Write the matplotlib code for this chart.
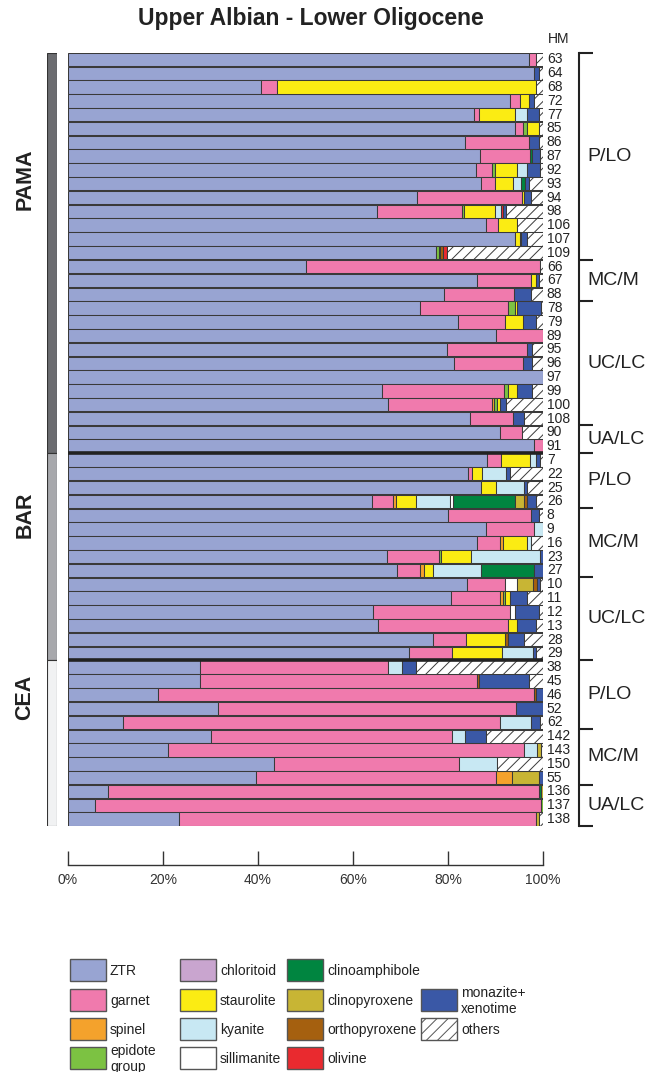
import numpy as np
import matplotlib
matplotlib.use("Agg")
import matplotlib.pyplot as plt
from matplotlib.patches import Rectangle

plt.rcParams['font.family'] = ['Liberation Sans', 'DejaVu Sans']
plt.rcParams['hatch.linewidth'] = 0.7

title = "Upper Albian - Lower Oligocene"

samples = ["63", "64", "68", "72", "77", "85", "86", "87", "92", "93",
           "94", "98", "106", "107", "109", "66", "67", "88", "78", "79",
           "89", "95", "96", "97", "99", "100", "108", "90", "91", "7",
           "22", "25", "26", "8", "9", "16", "23", "27", "10", "11",
           "12", "13", "28", "29", "38", "45", "46", "52", "62", "142",
           "143", "150", "55", "136", "137", "138"]

group_names = ["PAMA", "BAR", "CEA"]
group_sizes = [29, 15, 12]
group_colors = ["#6b6c70", "#a7a8ac", "#f1f2f3"]
group_label_rows = [8.7, 33.0, 46.2]

period_labels = ["P/LO", "MC/M", "UC/LC", "UA/LC",
                 "P/LO", "MC/M", "UC/LC",
                 "P/LO", "MC/M", "UA/LC"]
period_sizes = [15, 3, 9, 2, 4, 5, 6, 5, 4, 3]

ztr = [97.0, 98.0, 40.6, 93.0, 85.5, 94.1, 83.6, 86.7, 85.9, 87.0,
       73.4, 65.0, 88.1, 94.0, 77.4, 50.1, 86.0, 79.1, 74.2, 82.0,
       90.0, 79.7, 81.2, 100.0, 66.0, 67.3, 84.6, 90.9, 98.1, 88.2,
       84.2, 87.0, 64.1, 80.0, 88.1, 86.1, 67.1, 69.2, 84.0, 80.6,
       64.3, 65.3, 76.9, 71.8, 27.7, 27.8, 18.9, 31.5, 11.5, 30.1,
       21.0, 43.4, 39.5, 8.4, 5.7, 23.4]
garnet = [1.5, 0, 3.5, 2.1, 1.0, 1.6, 13.4, 10.5, 3.4, 2.8,
          22.2, 18.0, 2.4, 0, 0, 49.3, 11.5, 14.8, 18.4, 10.1,
          10.0, 16.9, 14.5, 0, 25.8, 22.0, 9.1, 4.7, 1.9, 3.0,
          0.9, 0, 4.4, 17.5, 10.1, 4.9, 11.0, 4.9, 8.1, 10.3,
          28.7, 27.3, 6.8, 9.1, 39.7, 58.3, 79.1, 62.9, 79.5, 50.8,
          75.0, 38.9, 50.7, 90.8, 93.8, 75.2]
spinel = [0, 0, 0, 0, 0, 0, 0, 0, 0, 0,
          0, 0, 0, 0, 0, 0, 0, 0, 0, 0,
          0, 0, 0, 0, 0, 0.3, 0, 0, 0, 0,
          0, 0, 0.5, 0, 0, 0.6, 0, 0.9, 0, 0.6,
          0, 0, 0, 0, 0, 0, 0, 0, 0, 0,
          0, 0, 3.3, 0, 0, 0]
epidote = [0, 0, 0, 0, 0, 0.9, 0, 0, 0.5, 0,
           0, 0.4, 0, 0, 0.6, 0, 0, 0, 1.4, 0,
           0, 0, 0, 0, 0.8, 0.8, 0, 0, 0, 0,
           0, 0, 0, 0, 0, 0, 0.5, 0, 0, 0.4,
           0, 0, 0, 0, 0, 0, 0, 0, 0, 0,
           0, 0, 0, 0, 0.5, 0]
chloritoid = [0, 0, 0, 0, 0, 0, 0, 0, 0, 0,
              0, 0, 0, 0, 0, 0, 0, 0, 0, 0,
              0, 0, 0, 0, 0, 0, 0, 0, 0, 0,
              0, 0, 0, 0, 0, 0, 0, 0, 0, 0,
              0, 0, 0, 0, 0, 0, 0, 0, 0, 0,
              0, 0, 0, 0, 0, 0]
staurolite = [0, 0, 54.4, 1.9, 7.6, 2.5, 0, 0, 4.8, 3.9,
              0.3, 6.4, 4.0, 1.1, 0.4, 0, 1.0, 0, 0.5, 3.7,
              0, 0, 0, 0, 2.0, 0.5, 0, 0, 0, 6.1,
              2.1, 3.2, 4.2, 0, 0, 5.1, 6.3, 1.9, 0, 1.1,
              0, 1.9, 8.2, 10.5, 0, 0, 0, 0, 0, 0,
              0, 0, 0, 0, 0, 0]
kyanite = [0, 0, 0, 0, 2.5, 0, 0, 0, 2.0, 1.6,
           0, 1.4, 0, 0, 0, 0, 0, 0, 0, 0,
           0, 0, 0, 0, 0, 0, 0, 0, 0, 1.2,
           5.1, 5.8, 7.3, 0, 1.8, 0.8, 14.4, 10.1, 0, 0,
           0, 0, 0, 6.5, 3.0, 0, 0, 0, 6.5, 2.6,
           2.7, 8.0, 0, 0, 0, 0]
sillimanite = [0, 0, 0, 0, 0, 0, 0, 0, 0, 0,
               0, 0, 0, 0, 0, 0, 0, 0, 0, 0,
               0, 0, 0, 0, 0, 0, 0, 0, 0, 0,
               0, 0, 0.6, 0, 0, 0, 0, 0, 2.5, 0,
               1.0, 0, 0, 0, 0, 0, 0, 0, 0, 0,
               0, 0, 0, 0, 0, 0]
clinoamphibole = [0, 0, 0, 0, 0, 0, 0, 0.5, 0, 0.9,
                  0, 0, 0, 0, 0, 0, 0, 0, 0, 0,
                  0, 0, 0, 0, 0, 0, 0, 0, 0, 0,
                  0, 0, 13.1, 0, 0, 0, 0, 11.1, 0, 0,
                  0, 0, 0, 0, 0, 0, 0, 0, 0, 0,
                  0, 0, 0, 0.3, 0, 0]
clinopyroxene = [0, 0, 0, 0, 0, 0, 0, 0, 0, 0,
                 0, 0, 0, 0, 0, 0, 0, 0, 0, 0,
                 0, 0, 0, 0, 0, 0, 0, 0, 0, 0,
                 0, 0, 1.8, 0, 0, 0, 0, 0, 3.3, 0,
                 0, 0, 0, 0, 0, 0, 0, 0, 0, 0,
                 0.8, 0, 5.6, 0.5, 0, 0.5]
orthopyroxene = [0, 0, 0, 0, 0, 0, 0, 0, 0, 0,
                 0, 0, 0, 0.3, 0.6, 0, 0, 0, 0, 0,
                 0, 0, 0, 0, 0, 0, 0, 0, 0, 0,
                 0, 0, 0.6, 0, 0, 0, 0, 0, 0.9, 0,
                 0, 0, 0.7, 0, 0, 0.4, 0.5, 0, 0, 0,
                 0, 0, 0, 0, 0, 0]
olivine = [0, 0, 0, 0, 0, 0, 0, 0, 0, 0,
           0, 0.4, 0, 0, 0.7, 0, 0, 0, 0, 0,
           0, 0, 0, 0, 0, 0, 0, 0, 0, 0,
           0, 0, 0, 0, 0, 0, 0, 0, 0, 0,
           0, 0, 0, 0, 0, 0, 0, 0, 0, 0,
           0, 0, 0, 0, 0, 0]
monazite = [0, 1.1, 0, 1.1, 2.5, 0, 2.1, 1.7, 2.7, 0.9,
            1.6, 0.6, 0, 1.2, 0, 0, 0.6, 3.6, 5.1, 2.8,
            0, 1.1, 2.0, 0, 3.1, 1.3, 2.3, 0, 0, 0.8,
            0.8, 0.6, 1.9, 1.6, 0, 0, 0.7, 1.9, 0.6, 3.6,
            5.1, 4.1, 3.4, 0.6, 2.8, 10.5, 1.5, 5.6, 1.8, 4.6,
            0, 0, 0.9, 0, 0, 0]
others = [1.5, 0.9, 1.5, 1.9, 0.9, 0.9, 0.9, 0.6, 0.7, 2.9,
          2.5, 7.8, 5.5, 3.4, 20.3, 0.6, 0.9, 2.5, 0.4, 1.4,
          0, 2.3, 2.3, 0, 2.3, 7.8, 4.0, 4.4, 0, 0.7,
          6.9, 3.4, 1.5, 0.9, 0, 2.5, 0, 0, 0.6, 3.4,
          0.9, 1.4, 4.0, 1.5, 26.8, 3.0, 0, 0, 0.7, 11.9,
          0.5, 9.7, 0, 0, 0, 0.9]

series = [ztr, garnet, spinel, epidote, chloritoid, staurolite, kyanite,
          sillimanite, clinoamphibole, clinopyroxene, orthopyroxene, olivine,
          monazite, others]
mineral_names = ["ZTR", "garnet", "spinel", "epidote\ngroup", "chloritoid",
                 "staurolite", "kyanite", "sillimanite", "clinoamphibole",
                 "clinopyroxene", "orthopyroxene", "olivine",
                 "monazite+\nxenotime", "others"]
mineral_colors = ["#98a4d2", "#f07aad", "#f4a22c", "#7cc242", "#c9a5cf",
                  "#fbec13", "#c8e8f3", "#ffffff", "#008540", "#c8b534",
                  "#a5600f", "#e92a2f", "#3a58a6", "#ffffff"]
mineral_hatches = [None] * 13 + ["///"]
legend_slots = [(0, 0), (0, 1), (0, 2), (0, 3), (1, 0), (1, 1), (1, 2),
                (1, 3), (2, 0), (2, 1), (2, 2), (2, 3), (3, 1), (3, 2)]
x_ticks = [0, 20, 40, 60, 80, 100]

W, H = 660, 1072
fig = plt.figure(figsize=(W / 100, H / 100), dpi=100)

top_px, bot_px = 52.5, 826.0
ax = fig.add_axes([68 / W, 1 - bot_px / H, 475 / W, (bot_px - top_px) / H])
n = len(samples)
y = np.arange(n)
left = np.zeros(n)
edge = "#3a3a3a"
for vals, col, hat in zip(series, mineral_colors, mineral_hatches):
    v = np.asarray(vals, dtype=float)
    m = v > 0
    if m.any():
        ax.barh(y[m], v[m], left=left[m], height=0.97, color=col,
                edgecolor=edge, linewidth=0.75, hatch=hat)
    left += v
ax.set_xlim(0, 100)
ax.set_ylim(n - 0.5, -0.5)

# group separators
bounds = np.cumsum(group_sizes)[:-1]
for b in bounds:
    ax.plot([0, 100], [b - 0.5, b - 0.5], color="#222222", lw=2.6,
            solid_capstyle="butt", clip_on=False, zorder=5)

# sample labels
for i, s in enumerate(samples):
    ax.text(100.8, i, s, ha="left", va="center", fontsize=10,
            color="#222222", clip_on=False)
ax.text(101.0, -1.45, "HM", ha="left", va="center", fontsize=10,
        color="#222222", clip_on=False)

# period brackets
xb, xt = 107.6, 110.5
ax.plot([xb, xb], [-0.5, n - 0.5], color="#222222", lw=1.5, clip_on=False)
pb = np.concatenate([[0], np.cumsum(period_sizes)]) - 0.5
for yb in pb:
    ax.plot([xb, xt], [yb, yb], color="#222222", lw=1.5, clip_on=False,
            solid_capstyle="butt")
for lab, a, b in zip(period_labels, pb[:-1], pb[1:]):
    ax.text(109.4, (a + b) / 2, lab, ha="left", va="center", fontsize=14,
            color="#222222", clip_on=False)

# axes styling
for sp in ["top", "right", "left"]:
    ax.spines[sp].set_visible(False)
ax.spines["bottom"].set_position(("outward", 28))
ax.spines["bottom"].set_color("#333333")
ax.spines["bottom"].set_linewidth(1.0)
ax.set_yticks([])
ax.set_xticks(x_ticks)
ax.set_xticklabels([f"{t}%" for t in x_ticks])
ax.tick_params(axis="x", direction="in", length=10, width=1.0,
               color="#333333", pad=6, labelsize=10, labelcolor="#333333")

# group strip
sax = fig.add_axes([47 / W, 1 - bot_px / H, 10 / W, (bot_px - top_px) / H])
sax.set_xlim(0, 1)
sax.set_ylim(n - 0.5, -0.5)
sax.axis("off")
start = 0
for name, size, gc, lr in zip(group_names, group_sizes, group_colors,
                              group_label_rows):
    sax.add_patch(Rectangle((0, start - 0.5), 1, size, facecolor=gc,
                            edgecolor="#333333", linewidth=0.8))
    sax.text(-2.2, lr, name, rotation=90, ha="center", va="center",
             fontsize=15.5, fontweight="bold", color="#222222")
    start += size

# title
fig.text(311 / W, 1 - 19 / H, title, ha="center", va="center",
         fontsize=16.5, fontweight="bold", color="#222222")

# legend
lax = fig.add_axes([0, 0, 1, 1])
lax.set_xlim(0, W)
lax.set_ylim(H, 0)
lax.axis("off")
lax.patch.set_visible(False)
col_x = [70, 180, 287, 421]
row_y = [959, 989, 1018, 1047]
for name, col, hat, (c, r) in zip(mineral_names, mineral_colors,
                                   mineral_hatches, legend_slots):
    lax.add_patch(Rectangle((col_x[c], row_y[r]), 36, 22, facecolor=col,
                            edgecolor="#555555", linewidth=1.0, hatch=hat))
    lax.text(col_x[c] + 40, row_y[r] + 12, name, ha="left", va="center",
             fontsize=10, color="#222222", linespacing=1.2)

fig.savefig("out.png", dpi=100)
